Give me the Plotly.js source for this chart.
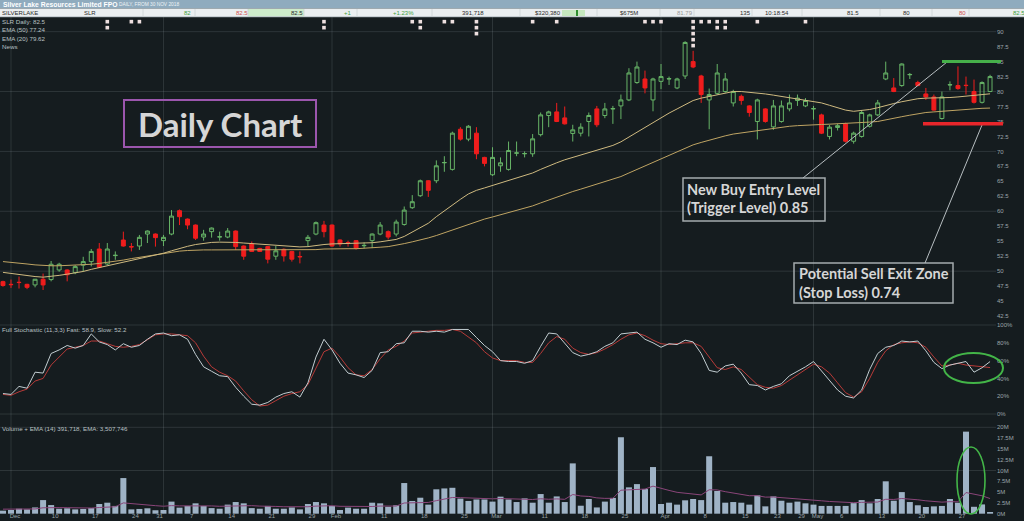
<!DOCTYPE html>
<html><head><meta charset="utf-8">
<script src="https://cdn.plot.ly/plotly-3.0.1.min.js"></script>
<style>html,body{margin:0;padding:0;background:#151c1f;overflow:hidden}</style>
</head><body><div id="chart" style="width:1024px;height:521px"></div>
<script>
const dates = ["2018-11-29","2018-11-30",
"2018-12-03","2018-12-04","2018-12-05","2018-12-06","2018-12-07","2018-12-10","2018-12-11","2018-12-12","2018-12-13","2018-12-14","2018-12-17","2018-12-18","2018-12-19","2018-12-20","2018-12-21","2018-12-24","2018-12-27","2018-12-28","2018-12-31",
"2019-01-02","2019-01-03","2019-01-04","2019-01-07","2019-01-08","2019-01-09","2019-01-10","2019-01-11","2019-01-14","2019-01-15","2019-01-16","2019-01-17","2019-01-18","2019-01-21","2019-01-22","2019-01-23","2019-01-24","2019-01-25","2019-01-29","2019-01-30","2019-01-31",
"2019-02-01","2019-02-04","2019-02-05","2019-02-06","2019-02-07","2019-02-08","2019-02-11","2019-02-12","2019-02-13","2019-02-14","2019-02-15","2019-02-18","2019-02-19","2019-02-20","2019-02-21","2019-02-22","2019-02-25","2019-02-26","2019-02-27","2019-02-28",
"2019-03-01","2019-03-04","2019-03-05","2019-03-06","2019-03-07","2019-03-08","2019-03-11","2019-03-12","2019-03-13","2019-03-14","2019-03-15","2019-03-18","2019-03-19","2019-03-20","2019-03-21","2019-03-22","2019-03-25","2019-03-26","2019-03-27","2019-03-28","2019-03-29",
"2019-04-01","2019-04-02","2019-04-03","2019-04-04","2019-04-05","2019-04-08","2019-04-09","2019-04-10","2019-04-11","2019-04-12","2019-04-15","2019-04-16","2019-04-17","2019-04-18","2019-04-23","2019-04-24","2019-04-26","2019-04-29","2019-04-30",
"2019-05-01","2019-05-02","2019-05-03","2019-05-06","2019-05-07","2019-05-08","2019-05-09","2019-05-10","2019-05-13","2019-05-14","2019-05-15","2019-05-16","2019-05-17","2019-05-20","2019-05-21","2019-05-22","2019-05-23","2019-05-24","2019-05-27","2019-05-28","2019-05-29","2019-05-30"];

const openP = [48.25,47.8,48.15,47.8,47.7,48.65,48.6,50.2,50.2,49.75,51.0,51.6,
53.7,51.2,52.6,55.2,54.1,54.2,56.2,56.2,55.1,56.2,
60.1,58.7,57.7,55.7,56.6,55.7,55.7,56.7,54.2,54.55,
53.8,54.1,52.5,53.65,53.3,52.45,55.1,56.2,57.7,57.7,
55.2,54.75,55.1,54.25,55.1,56.2,56.6,56.2,57.8,60.6,
62.6,65.1,65.1,68.1,67.0,73.7,72.05,73.05,69.0,66.1,
67.6,67.0,69.7,69.6,69.6,72.8,76.0,76.6,75.6,73.0,
73.05,75.0,77.1,76.0,77.1,77.6,78.6,81.5,82.1,78.6,
81.7,82.1,80.6,82.6,85.0,82.6,78.6,79.7,80.0,78.1,
79.2,77.6,75.0,77.1,74.1,75.0,77.1,78.5,77.6,77.1,
76.1,72.5,74.0,74.6,71.7,72.5,74.2,76.1,82.1,80.6,
81.0,82.8,81.5,79.6,79.1,75.5,81.1,81.0,81.05,80.0,
78.2,80.0];
const highP = [48.4,48.6,49.1,47.9,48.7,49.6,51.7,51.4,50.3,51.0,52.4,53.7,
54.7,54.7,53.3,56.6,54.7,56.05,56.8,56.3,56.05,60.2,
60.3,58.8,57.8,56.9,57.3,56.6,57.2,56.8,54.3,54.95,
53.9,54.2,54.2,53.8,53.4,53.3,56.05,58.3,58.4,57.8,
55.3,55.1,55.2,54.8,56.3,58.2,56.8,58.6,60.8,62.7,
65.3,65.2,68.5,69.2,73.3,74.05,74.4,74.05,69.1,70.7,
69.0,71.65,71.65,70.0,72.9,76.5,76.8,78.1,77.5,74.45,
74.7,76.5,77.6,78.1,77.6,79.5,83.9,85.0,83.5,82.3,
84.6,82.5,82.3,88.4,86.8,82.8,80.5,84.6,83.1,80.3,
79.5,77.7,78.8,77.2,78.6,78.5,79.5,79.5,78.9,77.6,
76.3,74.45,74.6,74.8,73.3,76.9,76.3,78.6,85.0,82.25,
84.7,83.1,81.8,80.6,79.5,80.0,81.7,84.2,82.5,82.0,
81.7,82.8];
const lowP = [47.4,47.2,47.1,47.0,47.3,46.85,48.3,49.9,48.3,49.5,49.9,50.8,
50.5,51.0,51.9,54.1,53.3,53.55,54.7,54.1,54.2,56.0,
57.7,57.0,55.2,55.1,55.6,55.1,55.5,53.55,51.9,53.2,
53.2,51.3,51.9,51.6,51.6,51.3,54.1,56.0,55.65,54.1,
54.1,54.1,53.6,53.8,53.85,56.0,55.3,55.8,57.6,60.4,
62.4,62.4,64.7,66.6,66.8,71.8,71.7,68.7,67.5,65.9,
66.6,66.8,69.2,69.0,69.1,72.5,74.05,74.9,74.5,71.65,
72.5,72.5,74.05,75.55,74.6,75.4,78.4,81.3,79.7,76.7,
80.4,81.1,80.4,82.1,83.9,78.1,73.7,79.5,79.8,77.5,
77.8,75.8,72.0,74.8,73.6,74.8,76.7,77.6,77.4,75.3,
72.9,72.0,73.5,71.5,71.3,72.3,74.0,75.9,81.9,79.9,
80.8,82.1,80.9,78.6,76.8,75.3,80.2,80.3,79.5,78.0,
78.0,79.9];
const closeP = [47.6,47.75,48.1,47.3,48.65,47.7,51.15,51.15,49.4,50.76,51.6,53.3,
50.65,53.7,52.65,54.2,54.05,55.65,56.7,55.6,55.65,59.2,
59.1,57.7,55.5,56.2,57.2,55.75,56.7,54.1,52.5,53.3,
53.3,52.0,53.4,52.55,52.0,52.4,55.65,58.1,56.6,54.2,
54.55,54.7,53.8,54.3,56.2,57.7,55.7,58.2,60.2,61.6,
65.1,63.5,67.6,68.15,73.05,72.05,74.2,69.6,68.0,69.0,
68.1,70.15,69.75,69.65,72.1,76.1,76.6,75.0,74.6,73.6,
74.05,76.0,74.45,77.1,77.15,78.6,83.1,84.1,80.6,82.1,
82.5,82.15,82.1,88.2,84.1,79.5,79.5,83.1,82.1,80.0,
78.5,76.5,78.6,75.0,77.6,77.6,78.1,78.9,78.5,77.15,
73.05,74.05,74.3,71.7,73.05,76.5,76.1,78.1,83.1,80.0,
84.6,82.85,81.0,79.1,76.9,79.1,81.15,80.5,81.0,78.2,
81.5,82.5];

const ema50 = [51.6,51.5,51.35,51.2,51.05,50.95,50.9,50.9,50.95,51.0,51.05,51.15,
51.3,51.45,51.6,51.85,52.1,52.3,52.5,52.7,52.95,53.2,
53.35,53.45,53.55,53.55,53.55,53.55,53.55,53.55,53.55,53.55,
53.55,53.5,53.5,53.5,53.5,53.5,53.55,53.6,53.7,53.75,
53.75,53.75,53.75,53.8,53.9,54.0,54.1,54.3,54.6,54.9,
55.2,55.55,55.95,56.4,56.85,57.35,57.85,58.3,58.7,59.05,
59.4,59.75,60.1,60.5,60.9,61.4,61.9,62.4,62.85,63.3,
63.7,64.1,64.5,64.9,65.3,65.8,66.4,67.0,67.6,68.2,
68.8,69.4,70.0,70.6,71.1,71.5,71.9,72.3,72.6,72.9,
73.1,73.3,73.5,73.7,73.9,74.05,74.2,74.3,74.4,74.45,
74.5,74.55,74.6,74.65,74.7,74.8,74.9,75.0,75.3,75.55,
75.8,76.05,76.3,76.5,76.6,76.7,76.85,77.0,77.1,77.15,
77.2,77.24];
const ema20 = [49.8,49.6,49.4,49.2,49.1,49.0,49.1,49.3,49.5,49.7,49.95,50.3,
50.6,50.9,51.15,51.45,51.75,52.05,52.4,52.7,53.0,53.4,
53.8,54.15,54.45,54.65,54.8,54.85,54.85,54.8,54.7,54.6,
54.5,54.4,54.3,54.2,54.1,54.05,54.1,54.3,54.45,54.55,
54.6,54.6,54.6,54.65,54.75,54.9,55.05,55.3,55.8,56.5,
57.2,58.0,59.1,60.1,61.1,62.0,62.9,63.5,63.9,64.3,
64.7,65.1,65.5,65.9,66.4,67.0,67.6,68.1,68.6,69.0,
69.4,69.8,70.2,70.6,71.0,71.6,72.4,73.3,74.1,74.9,
75.7,76.4,77.1,77.8,78.5,78.9,79.2,79.5,79.8,80.0,
80.0,79.9,79.8,79.6,79.4,79.2,79.0,78.8,78.6,78.4,
78.1,77.7,77.3,76.9,76.7,76.8,77.0,77.3,77.7,78.0,
78.3,78.6,78.8,78.9,78.9,78.9,79.0,79.1,79.2,79.3,
79.45,79.62];

const stochFast = [23,22,31,29,47,46,68,72,77,74,77,90,
81,78,72,79,75,77,84,90,91,88,
89,84,67,53,48,43,42,30,20,11,
10,13,19,23,25,19,35,64,84,72,
57,46,44,41,49,69,70,79,80,93,
93,92,93,92,95,95,95,86,77,70,
60,59,59,57,60,76,91,90,79,69,
65,67,70,76,80,90,91,92,84,80,
75,79,78,83,81,68,49,47,54,56,
46,33,32,27,31,34,43,48,53,59,
48,37,27,20,18,27,50,68,75,77,
82,81,82,71,58,51,55,57,59,47,
52,58.9];
const stochSlow = [22,21,25,28,37,40,55,64,73,75,77,82,
82,79,76,75,76,78,84,89,90,90,
89,88,80,65,53,47,43,37,26,16,
9,10,15,20,23,25,33,52,70,74,
64,52,44,43,50,62,72,76,82,91,
92,93,94,94,95,93,87,80,70,63,
60,60,60,58,58,68,80,87,84,74,
69,67,69,73,78,84,89,91,88,83,
79,78,79,80,80,76,64,52,50,53,
50,41,33,30,29,32,38,45,51,56,
53,46,35,24,19,25,40,58,71,78,
80,81,80,75,64,54,55,57,55,54,
53,52.2];

const volumeM = [0.7,0.85,1.15,1.0,1.45,3.15,2.0,1.15,1.25,1.0,1.1,1.3,
2.25,2.55,1.8,8.25,1.0,1.1,1.25,0.8,0.85,2.8,
1.4,1.8,2.4,1.8,1.3,1.15,2.1,2.7,2.4,1.3,
1.15,1.8,1.15,1.15,1.45,1.0,2.25,2.7,2.4,1.8,
0.85,1.4,1.15,1.15,2.55,2.4,1.6,1.95,7.1,2.95,
3.7,2.1,5.65,5.85,6.0,3.5,2.95,3.3,3.3,2.8,
3.95,3.3,2.7,3.55,2.55,4.55,2.55,4.0,2.7,11.65,
1.85,3.4,1.45,2.8,3.65,17.7,6.1,6.85,5.7,10.8,
2.25,2.55,2.1,3.1,3.4,3.15,13.3,5.25,2.55,2.7,
2.55,2.1,4.25,1.7,4.0,3.0,2.55,2.8,2.4,2.1,
1.8,1.8,1.8,1.8,2.45,3.15,2.4,3.4,7.5,3.0,
5.0,2.7,1.95,1.55,1.7,1.8,3.4,2.55,19.0,1.6,
2.15,0.39];
const volumeEma = [1.05,1.03,1.05,1.04,1.1,1.37,1.45,1.41,1.39,1.34,1.31,1.31,
1.43,1.58,1.61,2.5,2.3,2.14,2.02,1.86,1.73,1.87,
1.81,1.81,1.89,1.88,1.8,1.71,1.76,1.88,1.95,1.86,
1.76,1.77,1.68,1.61,1.59,1.51,1.61,1.76,1.84,1.84,
1.71,1.67,1.6,1.54,1.67,1.77,1.75,1.77,2.48,2.54,
2.69,2.61,3.02,3.4,3.75,3.72,3.62,3.58,3.54,3.44,
3.51,3.48,3.38,3.4,3.29,3.46,3.34,3.43,3.33,4.44,
4.1,4.0,3.66,3.55,3.56,5.44,5.53,5.7,5.7,6.38,
5.83,5.39,4.95,4.7,4.53,4.35,5.54,5.5,5.1,4.78,
4.48,4.16,4.17,3.84,3.86,3.74,3.58,3.48,3.34,3.17,
2.99,2.83,2.69,2.57,2.55,2.63,2.6,2.7,3.34,3.3,
3.52,3.41,3.22,2.99,2.82,2.68,2.78,2.75,4.9,4.46,
4.15,3.51];

const tickDates = ["2018-12-03","2018-12-10","2018-12-17","2018-12-24","2018-12-31","2019-01-07","2019-01-14","2019-01-21","2019-01-29","2019-02-01","2019-02-11","2019-02-18","2019-02-25","2019-03-01","2019-03-11","2019-03-18","2019-03-25","2019-04-01","2019-04-08","2019-04-15","2019-04-23","2019-04-29","2019-05-01","2019-05-06","2019-05-13","2019-05-20","2019-05-27"];
const tickLabels = ["Dec","10","17","24","31","7","14","21","29","Feb","11","18","25","Mar","11","18","25","Apr","8","15","23","29","May","6","13","20","27"];
const monthEnds = ["2018-11-30","2018-12-31","2019-01-31","2019-02-28","2019-03-29","2019-04-30"];
const newsDates = ["2018-12-18","2018-12-21","2018-12-24","2019-01-30","2019-02-14","2019-02-15","2019-02-20","2019-02-21","2019-02-26","2019-03-07","2019-03-12","2019-03-27","2019-03-28","2019-03-29","2019-04-04","2019-04-05","2019-04-08","2019-04-09","2019-04-10","2019-04-16","2019-04-29"];
const newsCounts = [2,1,1,2,1,2,1,1,3,1,1,1,1,1,5,1,1,2,2,1,1];
const priceGrid = [50,60,70,80,90];
const stochGrid = [0,100];
const volumeGrid = [10,20];
const buyLevel = 85;
const stopLevel = 74.6;

const FONT = 'Liberation Sans, Arial, sans-serif';
const W = 1024, H = 521, ML = 0, MR = 28, MT = 17, MB = 7;
const PW = W - ML - MR, PH = H - MT - MB;
const px = x => (x - ML) / PW;
const py = y => (H - MB - y) / PH;
const shapes = [], annotations = [];
function rectPx(x0, y0, x1, y1, fill, line, layer) {
  shapes.push({type:'rect', xref:'paper', yref:'paper', x0:px(x0), x1:px(x1), y0:py(y1), y1:py(y0),
    fillcolor: fill || 'rgba(0,0,0,0)', line: line || {width:0}, layer: layer || 'above'});
}
function linePx(x0, y0, x1, y1, color, width, layer) {
  shapes.push({type:'line', xref:'paper', yref:'paper', x0:px(x0), x1:px(x1), y0:py(y0), y1:py(y1),
    line:{color:color, width:width}, layer: layer || 'above'});
}
function textPx(text, x, y, font, extra) {
  annotations.push(Object.assign({xref:'paper', yref:'paper', x:px(x), y:py(y), text:text, showarrow:false,
    xanchor:'left', yanchor:'middle', borderpad:0, font:font}, extra || {}));
}

// grid
const GRID = 'rgba(190,205,212,0.14)';
priceGrid.forEach(v => shapes.push({type:'line', xref:'paper', yref:'y', x0:0, x1:1, y0:v, y1:v, line:{color:GRID, width:1}, layer:'below'}));
stochGrid.forEach(v => shapes.push({type:'line', xref:'paper', yref:'y2', x0:0, x1:1, y0:v, y1:v, line:{color:GRID, width:1}, layer:'below'}));
volumeGrid.forEach(v => shapes.push({type:'line', xref:'paper', yref:'y3', x0:0, x1:1, y0:v, y1:v, line:{color:GRID, width:1}, layer:'below'}));
monthEnds.forEach(d => shapes.push({type:'line', xref:'x', yref:'paper', x0:d, x1:d, y0:0, y1:1, line:{color:GRID, width:1}, layer:'below'}));

// header
rectPx(0, 0, 1024, 8.6, '#8fabbe');
rectPx(0, 8.6, 1024, 17, '#eaeef0');
rectPx(248, 9, 304, 16.6, '#cdeccb');
rectPx(562, 10, 585, 16, '#c6e8bf');
rectPx(576, 10, 578, 16, '#2f8f2f');
linePx(0, 16.8, 1024, 16.8, '#aab4ba', 0.8);
[143, 195, 248, 304, 357, 432, 520, 597, 660, 694, 752, 802, 880, 932, 969].forEach(x => linePx(x, 9, x, 16.6, '#cdd3d6', 0.8));
textPx('<b>Silver Lake Resources Limited FPO</b>', 1.5, 4.4, {family:FONT, size:6.8, color:'#ffffff'});
textPx('DAILY, FROM 30 NOV 2018', 118, 4.8, {family:FONT, size:4.8, color:'#eef3f6'});
const headerCells = [['SILVERLAKE',0.5,'#2b2b2b'],['SLR',83,'#2b2b2b'],['82',183,'#3f9f3f'],['82.5',235,'#d0504f'],['82.5',290,'#2b2b2b'],['+1',343,'#3f9f3f'],['+1.23%',392,'#3f9f3f'],['391,718',461,'#2b2b2b'],['$320,380',534,'#2b2b2b'],['$675M',619,'#2b2b2b'],['81.79',676,'#9a9a9a'],['135',739,'#2b2b2b'],['10:18:54',764,'#2b2b2b'],['81.5',846,'#2b2b2b'],['80',902,'#2b2b2b'],['80',958,'#d0504f'],['82.5',1012,'#3f9f3f']];
headerCells.forEach(c => textPx(c[0], c[1], 12.9, {family:FONT, size:6, color:c[2]}));

// panel labels
const LBL = {family:FONT, size:6.2, color:'#b8c0c3'};
textPx('SLR Daily: 82.5', 0.5, 22, LBL);
textPx('EMA (50) 77.24', 0.5, 30, LBL);
textPx('EMA (20) 79.62', 0.5, 38, LBL);
textPx('News', 0.5, 46, LBL);
textPx('Full Stochastic (11,3,3) Fast: 58.9, Slow: 52.2', 0.5, 329.5, LBL);
textPx('Volume + EMA (14) 391,718, EMA: 3,507,746', 0.5, 428, LBL);

// callouts
rectPx(124, 100, 316, 147, 'rgba(0,0,0,0)', {color:'#9b56ad', width:2});
textPx('<b>Daily Chart</b>', 220, 124, {family:'Lato, Open Sans, sans-serif', size:33, color:'#d6d6d6'}, {xanchor:'center'});
rectPx(683, 178, 825, 221, 'rgba(0,0,0,0)', {color:'#a4abae', width:1.5});
rectPx(794, 263, 953, 303, 'rgba(0,0,0,0)', {color:'#a4abae', width:1.5});
const CF = {family:'Lato, Open Sans, sans-serif', size:14.5, color:'#d6d6d6'};
textPx('<b>New Buy Entry Level</b>', 686, 189.5, CF);
textPx('<b>(Trigger Level) 0.85</b>', 686, 208, CF);
textPx('<b>Potential Sell Exit Zone</b>', 798, 273.5, CF);
textPx('<b>(Stop Loss) 0.74</b>', 798, 292, CF);
linePx(803, 178, 947, 62, '#b7bec1', 1);
linePx(925, 263, 982, 125, '#b7bec1', 1);
shapes.push({type:'line', xref:'paper', yref:'y', x0:px(942), x1:px(1001), y0:buyLevel, y1:buyLevel, line:{color:'#46b04a', width:3}, layer:'above'});
shapes.push({type:'line', xref:'paper', yref:'y', x0:px(923), x1:px(1003), y0:stopLevel, y1:stopLevel, line:{color:'#e8262b', width:3.5}, layer:'above'});
shapes.push({type:'circle', xref:'paper', yref:'paper', x0:px(944), x1:px(1003), y0:py(383), y1:py(353), line:{color:'#43b548', width:2}, layer:'above'});
shapes.push({type:'circle', xref:'paper', yref:'paper', x0:px(957), x1:px(985), y0:py(514), y1:py(447), line:{color:'#43b548', width:1.6}, layer:'above'});

// news markers
const newsX = [], newsY = [];
newsDates.forEach((d, k) => { for (let j = 0; j < newsCounts[k]; j++) { newsX.push(d); newsY.push(91.67 - j * 1.0); } });

const traces = [
  {type:'candlestick', x:dates, open:openP, high:highP, low:lowP, close:closeP, xaxis:'x', yaxis:'y',
   increasing:{line:{color:'#67b467', width:1}, fillcolor:'rgba(0,0,0,0)'},
   decreasing:{line:{color:'#f01d1d', width:1}, fillcolor:'#f01d1d'}, hoverinfo:'skip', showlegend:false},
  {type:'scatter', mode:'lines', x:dates, y:ema50, xaxis:'x', yaxis:'y', line:{color:'#bfa463', width:1}, hoverinfo:'skip', showlegend:false},
  {type:'scatter', mode:'lines', x:dates, y:ema20, xaxis:'x', yaxis:'y', line:{color:'#cfba80', width:1}, hoverinfo:'skip', showlegend:false},
  {type:'scatter', mode:'markers', x:newsX, y:newsY, xaxis:'x', yaxis:'y', marker:{symbol:'square', size:3.6, color:'#eee0e0', line:{width:0}}, hoverinfo:'skip', showlegend:false},
  {type:'scatter', mode:'lines', x:dates, y:stochSlow, xaxis:'x', yaxis:'y2', line:{color:'#b73a38', width:1}, hoverinfo:'skip', showlegend:false},
  {type:'scatter', mode:'lines', x:dates, y:stochFast, xaxis:'x', yaxis:'y2', line:{color:'#c2cdd1', width:1}, hoverinfo:'skip', showlegend:false},
  {type:'bar', x:dates, y:volumeM, xaxis:'x', yaxis:'y3', marker:{color:'#9fb3c6', line:{width:0}}, hoverinfo:'skip', showlegend:false},
  {type:'scatter', mode:'lines', x:dates, y:volumeEma, xaxis:'x', yaxis:'y3', line:{color:'#8a4579', width:1}, hoverinfo:'skip', showlegend:false}
];

const TF = {family:FONT, size:6, color:'#9ba4a9'};
const yBase = {side:'right', anchor:'x', showgrid:false, zeroline:false, showline:false, ticks:'', tickfont:TF, automargin:false, fixedrange:true};
const layout = {
  width:W, height:H, margin:{l:ML, r:MR, t:MT, b:MB, pad:0},
  paper_bgcolor:'#151c1f', plot_bgcolor:'#151c1f', showlegend:false, hovermode:false,
  font:{family:FONT, size:6, color:'#9ba4a9'},
  bargap:0.25,
  xaxis:{type:'category', range:[-0.37, 123.74], domain:[0,1], anchor:'y3', showgrid:false, zeroline:false, showline:false,
    ticks:'', tickmode:'array', tickvals:tickDates, ticktext:tickLabels, tickfont:TF, ticklabelshift:-4, ticklabelstandoff:-3,
    rangeslider:{visible:false}, automargin:false, fixedrange:true},
  yaxis:Object.assign({}, yBase, {domain:[0.3903,1], range:[41.84,92.45], dtick:2.5, tick0:0}),
  yaxis2:Object.assign({}, yBase, {domain:[0.1891,0.3903], range:[-6.74,105.6], tickmode:'array', tickvals:[0,20,40,60,80,100], ticktext:['0%','20%','40%','60%','80%','100%']}),
  yaxis3:Object.assign({}, yBase, {domain:[0,0.1891], range:[-0.07,21.69], dtick:2.5, tick0:0, ticksuffix:'M'}),
  shapes:shapes, annotations:annotations
};
Plotly.newPlot('chart', traces, layout, {staticPlot:true, displayModeBar:false});
</script>
</body></html>
